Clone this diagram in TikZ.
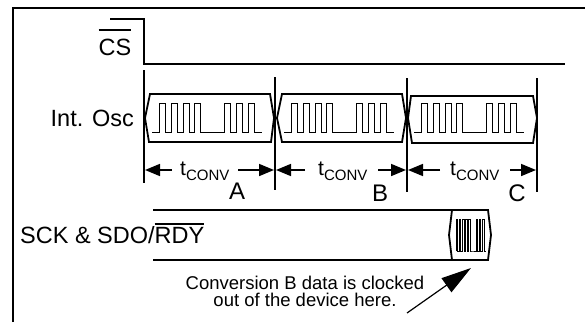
\documentclass[tikz,border=0pt]{standalone}
\usepackage{fontspec}
\setmainfont{Liberation Sans}
\usetikzlibrary{arrows.meta}
\newcommand\ovbar[2]{\leavevmode\vbox{\hrule height 1.6pt\kern#1\hbox{#2}}}
\newcommand\tconv{t\raisebox{-5pt}{\fontsize{15}{15}\selectfont CONV}}
\begin{document}
\begin{tikzpicture}[x=1pt,y=-1pt,
  frame/.style={line width=2pt},
  sig/.style={line width=2.4pt},
  bus/.style={line width=2pt, line join=miter},
  busbox/.style={line width=1.8pt, line join=miter},
  wave/.style={line width=0.8pt},
  tickline/.style={line width=2pt},
  dim/.style={-{Triangle[length=15pt,width=12pt]}, line width=1.6pt},
  callout/.style={-{Triangle[length=30pt,width=17pt]}, line width=1.2pt},
  lbl/.style={font=\fontsize{23.5}{25}\selectfont, inner sep=0pt},
  abc/.style={font=\fontsize{24}{25}\selectfont, inner sep=0pt},
  tlbl/.style={font=\fontsize{21}{22}\selectfont, inner sep=0pt},
  note/.style={font=\fontsize{18.5}{17}\selectfont, inner sep=0pt, align=center},
]
\useasboundingbox (0,0) rectangle (585,322);
% frame
\draw[frame] (13,322) -- (13,8) -- (585,8);
% CS
\draw[sig] (110,19) -- (144,19) -- (144,64) -- (565,64);
\node[lbl, anchor=base] (cs) at (115,55) {\ovbar{7.5pt}{CS}};
% Int Osc
\node[lbl, anchor=base east] (osc) at (134,126) {Int. Osc};
\draw[tickline] (144,70) -- (144,183);
\draw[tickline] (275,77) -- (275,190);
\draw[tickline] (407,78) -- (407,192);
\draw[tickline] (537,78) -- (537,192);
% osc boxes
\draw[busbox] (150,94) -- (270,94) -- (274,118) -- (271,142) -- (149,142) -- (145,118) -- cycle;
\draw[busbox] (282,94) -- (402,94) -- (406,118) -- (402,142) -- (282,142) -- (277,118) -- cycle;
\draw[busbox] (411,96) -- (533,96) -- (537,118) -- (533,143) -- (412,143) -- (408,118) -- cycle;
\foreach \s in {152,284,414}{
  \draw[wave] (\s,132) -- ++(7,0)
    -- ++(0,-29) -- ++(6,0) -- ++(0,29) -- ++(6,0)
    -- ++(0,-29) -- ++(6,0) -- ++(0,29) -- ++(6,0)
    -- ++(0,-29) -- ++(6,0) -- ++(0,29) -- ++(5,0)
    -- ++(0,-29) -- ++(6,0) -- ++(0,29) -- ++(24,0)
    -- ++(0,-29) -- ++(6,0) -- ++(0,29) -- ++(6,0)
    -- ++(0,-29) -- ++(6,0) -- ++(0,29) -- ++(6,0)
    -- ++(0,-29) -- ++(6,0) -- ++(0,29) -- ++(8,0);
}
% tconv arrows
\node[tlbl, anchor=base west] (ta) at (180,175) {\tconv};
\node[tlbl, anchor=base west] (tb) at (318,175) {\tconv};
\node[tlbl, anchor=base west] (tc) at (450,175) {\tconv};
\coordinate (a1) at (172,170); \coordinate (a0) at (145,170);
\coordinate (a2) at (238,170); \coordinate (a3) at (274,170);
\coordinate (b1) at (305,170); \coordinate (b0) at (276,170);
\coordinate (b2) at (378,170); \coordinate (b3) at (406,170);
\coordinate (c1) at (440,170); \coordinate (c0) at (408,170);
\coordinate (c2) at (510,170); \coordinate (c3) at (536,170);
\draw[dim] (a1) -- (a0); \draw[dim] (a2) -- (a3);
\draw[dim] (b1) -- (b0); \draw[dim] (b2) -- (b3);
\draw[dim] (c1) -- (c0); \draw[dim] (c2) -- (c3);
\node[abc] (la) at (237,191) {A};
\node[abc] (lb) at (380,193) {B};
\node[abc] (lc) at (517,193) {C};
% SCK bus
\node[lbl, anchor=base west] (sck) at (20,243) {SCK \& SDO/\ovbar{1.8pt}{RDY}};
\draw[bus] (153,210) -- (452,210);
\draw[bus] (153,260) -- (452,260);
\draw[busbox] (452,210) -- (488,210) -- (491,235) -- (488,260) -- (452,260) -- (449,235) -- cycle;
\draw[wave] (456,251)
  \foreach \i in {0,...,4}{ -- ++(0,-32) -- ++(1.6,0) -- ++(0,32) -- ++(1.6,0) }
  -- ++(4,0)
  \foreach \i in {0,...,2}{ -- ++(0,-32) -- ++(1.6,0) -- ++(0,32) -- ++(1.6,0) };
% note
\node[note] (note) at (305,291) {Conversion B data is clocked\\out of the device here.};
\coordinate (ptail) at (407,313);
\coordinate (ptip) at (471,268);
\draw[callout] (ptail) -- (ptip);
\end{tikzpicture}
\end{document}
